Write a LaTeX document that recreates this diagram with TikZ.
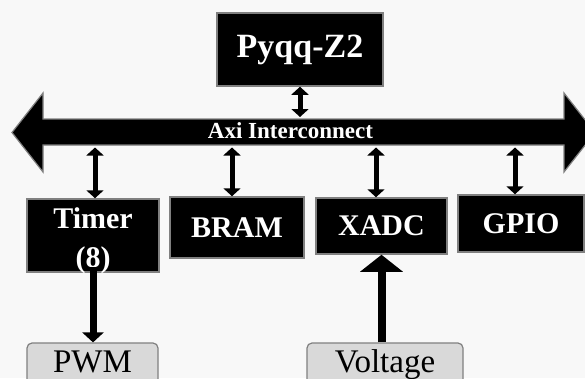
\documentclass[tikz,border=0pt]{standalone}
\usepackage{fontspec}
\setmainfont{Liberation Serif}
\usetikzlibrary{arrows.meta}
\definecolor{bg}{HTML}{F8F8F8}
\definecolor{edge}{HTML}{808080}
\definecolor{light}{HTML}{D9D9D9}
\begin{document}
\begin{tikzpicture}[x=1pt,y=-1pt,
  blk/.style={draw=edge, line width=1.5pt, fill=black, text=white,
    font=\fontsize{30}{36}\selectfont\bfseries, inner sep=0pt},
  blktext/.style={text=white, font=\fontsize{30}{36}\selectfont\bfseries, inner sep=0pt, anchor=base},
  soft/.style={draw=edge, line width=1.2pt, fill=light, rounded corners=5pt,
    font=\fontsize{33}{36}\selectfont, text height=22.5pt, text depth=8pt, inner sep=0pt},
  link/.style={line width=5pt, {Triangle[width=17pt,length=8pt]}-{Triangle[width=17pt,length=8pt]}},
  outlink/.style={line width=7pt, -{Triangle[width=21pt,length=10pt]}},
  inlink/.style={line width=8pt, -{Triangle[width=42pt,length=17pt]}},
  bustext/.style={text=white, font=\fontsize{23}{26}\selectfont\bfseries, inner sep=0pt, anchor=base}]
\fill[bg] (0,0) rectangle (585,378);
\clip (0,0) rectangle (585,378);

% bus
\filldraw[fill=black, draw=edge, line width=1.2pt]
  (12,132.5) -- (43,93) -- (43,119) -- (564,119) -- (564,93) -- (595,132.5)
  -- (564,172) -- (564,145) -- (43,145) -- (43,172) -- cycle;
\node[bustext] (bus) at (290.5,138) {Axi Interconnect};
\coordinate (bustop) at (300,117);
\coordinate (busbot) at (300,147.5);

% boxes
\node[blk, minimum width=166pt, minimum height=73pt] (pyqq) at (300,49.5)
  {\fontsize{34}{36}\selectfont Pyqq-Z2};
\node[blk, minimum width=132pt, minimum height=73pt] (timer) at (93,235.5) {};
\node[blktext] (timerA) at (93,228) {Timer};
\node[blktext] (timerB) at (93,267) {(8)};
\node[blk, minimum width=134pt, minimum height=61pt] (bram) at (237,227.5) {BRAM};
\node[blk, minimum width=131pt, minimum height=56pt] (xadc) at (381.5,226) {XADC};
\node[blk, minimum width=126pt, minimum height=57pt] (gpio) at (521,223.5) {GPIO};

\node[soft, minimum width=131pt, minimum height=44pt] (pwm) at (92.5,365) {PWM};
\node[soft, minimum width=156pt, minimum height=44pt] (voltage) at (385,365) {Voltage};

% connectors
\draw[link] (pyqq.south) -- (pyqq.south |- bustop);
\draw[link] ([xshift=2pt]timer.north) -- ([xshift=2pt]timer.north |- busbot);
\draw[link] ([xshift=-5pt]bram.north) -- ([xshift=-5pt]bram.north |- busbot);
\draw[link] ([xshift=-5.5pt]xadc.north) -- ([xshift=-5.5pt]xadc.north |- busbot);
\draw[link] ([xshift=-6pt]gpio.north) -- ([xshift=-6pt]gpio.north |- busbot);
\draw[outlink] ([yshift=6pt]timer.south) -- (timer.south |- pwm.north);
\draw[inlink] (voltage.north -| xadc.south) -- (xadc.south);
\end{tikzpicture}
\end{document}
